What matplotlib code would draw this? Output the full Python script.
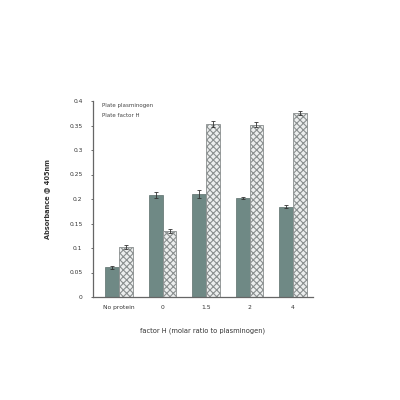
import matplotlib
matplotlib.use("Agg")
import matplotlib.pyplot as plt
import numpy as np

categories = ["No protein", "0", "1.5", "2", "4"]
plasminogen = [0.061, 0.208, 0.210, 0.202, 0.184]
plasminogen_err = [0.003, 0.006, 0.008, 0.003, 0.003]
factor_h = [0.102, 0.135, 0.353, 0.352, 0.375]
factor_h_err = [0.004, 0.004, 0.006, 0.005, 0.004]
series_names = ["Plate plasminogen", "Plate factor H"]
yticks = [0, 0.05, 0.1, 0.15, 0.2, 0.25, 0.3, 0.35, 0.4]
ytick_labels = ["0", "0.05", "0.1", "0.15", "0.2", "0.25", "0.3", "0.35", "0.4"]

plt.rcParams['hatch.color'] = '#b4b9b9'
plt.rcParams['hatch.linewidth'] = 0.8

fig = plt.figure(figsize=(4, 4), dpi=100)
ax = fig.add_axes([0.2325, 0.2575, 0.55, 0.49])

x = np.arange(len(categories))
w = 0.32
ax.bar(x - w / 2, plasminogen, w, color="#6f8985", edgecolor="#5c6f6c", linewidth=0.5,
       yerr=plasminogen_err, error_kw=dict(ecolor="#333333", elinewidth=0.6, capsize=1.2, capthick=0.6))
ax.bar(x + w / 2, factor_h, w, color="#eceeee", edgecolor="#8a8f8f", linewidth=0.6, hatch="xxxxx",
       yerr=factor_h_err, error_kw=dict(ecolor="#333333", elinewidth=0.6, capsize=1.2, capthick=0.6))

ax.set_xlim(-0.6, 4.46)
ax.set_ylim(0, 0.4)
ax.set_yticks(yticks)
ax.set_yticklabels(ytick_labels)
ax.set_xticks(x)
ax.set_xticklabels(categories)
ax.tick_params(axis='both', labelsize=4.3, length=1.5, width=0.5, colors="#333333", pad=6)
ax.tick_params(axis='x', length=0)
for s in ["top", "right"]:
    ax.spines[s].set_visible(False)
for s in ["left", "bottom"]:
    ax.spines[s].set_color("#666666")
    ax.spines[s].set_linewidth(0.9)

ax.set_ylabel("Absorbance @ 405nm", fontsize=4.8, color="#333333", labelpad=14, fontweight="bold")
ax.set_xlabel("factor H (molar ratio to plasminogen)", fontsize=4.8, color="#333333", labelpad=12)

ax.text(0.04, 0.975, series_names[0], transform=ax.transAxes, fontsize=4, color="#444444", va="center")
ax.text(0.04, 0.925, series_names[1], transform=ax.transAxes, fontsize=4, color="#444444", va="center")

fig.savefig("out.png", dpi=100)
